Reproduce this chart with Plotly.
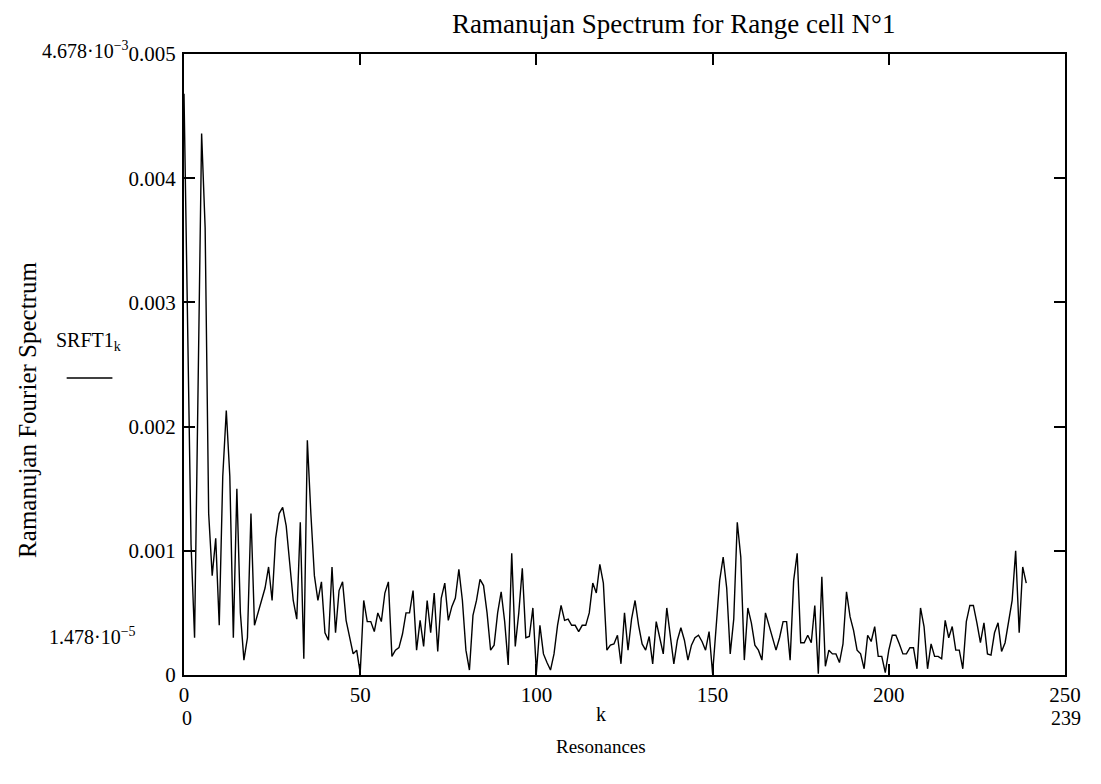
import plotly.graph_objects as go

# ---- data ----
k_index = list(range(240))
srft1 = [
    0.00468, 0.0029, 0.00105, 0.0003, 0.0022, 0.00436, 0.0036, 0.0013, 0.0008, 0.0011,
    0.0004, 0.0016, 0.00213, 0.0016, 0.0003, 0.0015, 0.0005, 0.00012, 0.0003, 0.0013,
    0.0004, 0.0005, 0.0006, 0.0007, 0.00087, 0.0006, 0.0011, 0.0013, 0.00135, 0.0012,
    0.0009, 0.0006, 0.00045, 0.00123, 0.00013, 0.00189, 0.0013, 0.0008, 0.0006, 0.00075,
    0.00034, 0.00028, 0.00087, 0.00034, 0.00068, 0.00075, 0.00044, 0.0003, 0.00017, 0.0002,
    0.00001478, 0.0006, 0.00043, 0.00043, 0.00035, 0.0005, 0.00043, 0.00066, 0.00075, 0.00015,
    0.0002, 0.00022, 0.00033, 0.0005, 0.0005, 0.00068, 0.0002, 0.00044, 0.00023, 0.0006,
    0.00034, 0.00066, 0.00019, 0.00062, 0.00074, 0.00044, 0.00055, 0.00062, 0.00085, 0.0006,
    0.0002, 0.00004, 0.00048, 0.0006, 0.00077, 0.00072, 0.0005, 0.0002, 0.00024, 0.0005,
    0.00067, 0.00043, 0.00008, 0.00098, 0.00023, 0.0005, 0.00086, 0.0003, 0.00031, 0.00054,
    0.00002, 0.0004, 0.00017, 0.0001, 0.00004, 0.00017, 0.0004, 0.00056, 0.00044, 0.00045,
    0.0004, 0.0004, 0.00035, 0.0004, 0.0004, 0.0005, 0.00074, 0.00066, 0.00089, 0.00074,
    0.0002, 0.00024, 0.00025, 0.00032, 0.00009, 0.0005, 0.0002, 0.00045, 0.0006, 0.0004,
    0.00025, 0.0002, 0.00031, 0.00009, 0.00043, 0.0003, 0.00017, 0.00054, 0.0003, 0.00009,
    0.00028, 0.00038, 0.00028, 0.00012, 0.00024, 0.0003, 0.00032, 0.00027, 0.0002, 0.00035,
    0.00001, 0.00035, 0.00076, 0.00095, 0.0007, 0.00017, 0.00045, 0.00123, 0.00095, 0.00012,
    0.00054, 0.00042, 0.00024, 0.0002, 0.00012, 0.0005, 0.0004, 0.00031, 0.0002, 0.0003,
    0.00043, 0.00043, 0.00012, 0.00076, 0.00098, 0.00026, 0.00026, 0.00032, 0.00026, 0.00056,
    0.00001, 0.00079, 0.00007, 0.0002, 0.00017, 0.00017, 0.0001, 0.00025, 0.00067, 0.00047,
    0.00036, 0.0002, 0.00017, 0.00005, 0.00032, 0.00027, 0.00039, 0.00015, 0.00015, 0.00002,
    0.0002, 0.00032, 0.00032, 0.00025, 0.00017, 0.00017, 0.00022, 0.00022, 0.00005, 0.00054,
    0.00039, 0.00005, 0.00025, 0.00015, 0.00015, 0.00013, 0.00044, 0.0003, 0.00039, 0.0002,
    0.0002, 0.00005, 0.00043, 0.00056, 0.00056, 0.00042, 0.00026, 0.00042, 0.00017, 0.00016,
    0.00034, 0.00042, 0.00019, 0.00026, 0.00042, 0.0006, 0.001, 0.00034, 0.00087, 0.00074,
]
x_ticks = [0, 50, 100, 150, 200, 250]
x_tick_text = ["0", "50", "100", "150", "200", "250"]
y_ticks = [0, 0.001, 0.002, 0.003, 0.004, 0.005]
y_tick_text = ["0", "0.001", "0.002", "0.003", "0.004", "0.005"]
y_max_label = "4.678·10<sup>−3</sup>"
y_min_label = "1.478·10<sup>−5</sup>"
x_min_label = "0"
x_max_label = "239"

# ---- layout geometry (page pixels; the page body adds an 8 px margin) ----
OFF = 8
W, H = 1101 - 2 * OFF, 784 - 2 * OFF
L, R, T, B = 184, 1070, 54, 675          # plot area in page pixels
FONT = "Liberation Serif, Times New Roman, serif"


def px(x):
    return (x - L) / (R - L)


def py(y):
    return (B - y) / (B - T)


fig = go.Figure()
fig.add_trace(go.Scatter(x=k_index, y=srft1, mode="lines",
                         line=dict(color="black", width=1.4),
                         showlegend=False, hoverinfo="skip"))

axis_common = dict(showgrid=False, zeroline=False, showline=True, linecolor="black",
                   linewidth=2, mirror="ticks", ticks="inside", ticklen=11,
                   tickwidth=1.5, tickcolor="black",
                   tickfont=dict(family=FONT, size=21, color="black"))

fig.update_layout(
    width=W, height=H,
    margin=dict(l=L - OFF, r=W - (R - OFF), t=T - OFF, b=H - (B - OFF), pad=0),
    paper_bgcolor="white", plot_bgcolor="white",
    xaxis=dict(range=[0, 250], tickvals=x_ticks, ticktext=x_tick_text, **axis_common),
    yaxis=dict(range=[0, 0.005], tickvals=y_ticks, ticktext=y_tick_text,
               ticklabelstandoff=2, **axis_common),
)

ann = []


def add_text(text, x, y, size, xanchor="center", yanchor="middle", angle=0):
    ann.append(dict(text=text, x=px(x), y=py(y), xref="paper", yref="paper",
                    showarrow=False, xanchor=xanchor, yanchor=yanchor, textangle=angle,
                    font=dict(family=FONT, size=size, color="black")))


add_text("Ramanujan Spectrum for Range cell N°1", 676, 24, 27)
add_text("Ramanujan Fourier Spectrum", 26, 410, 25, angle=-90)
add_text("SRFT1<sub>k</sub>", 88, 342, 20)
add_text(y_max_label, 131, 50, 20, xanchor="right")
add_text(y_min_label, 138, 636, 20, xanchor="right")
add_text(x_min_label, 187, 718, 20)
add_text(x_max_label, 1071, 718, 20)
add_text("k", 603, 714, 20)
add_text("Resonances", 603, 746, 19)

fig.update_layout(annotations=ann)
fig.add_shape(type="line", xref="paper", yref="paper",
              x0=px(66), x1=px(112), y0=py(378), y1=py(378),
              line=dict(color="black", width=1.3))

fig.write_html("out.html")
